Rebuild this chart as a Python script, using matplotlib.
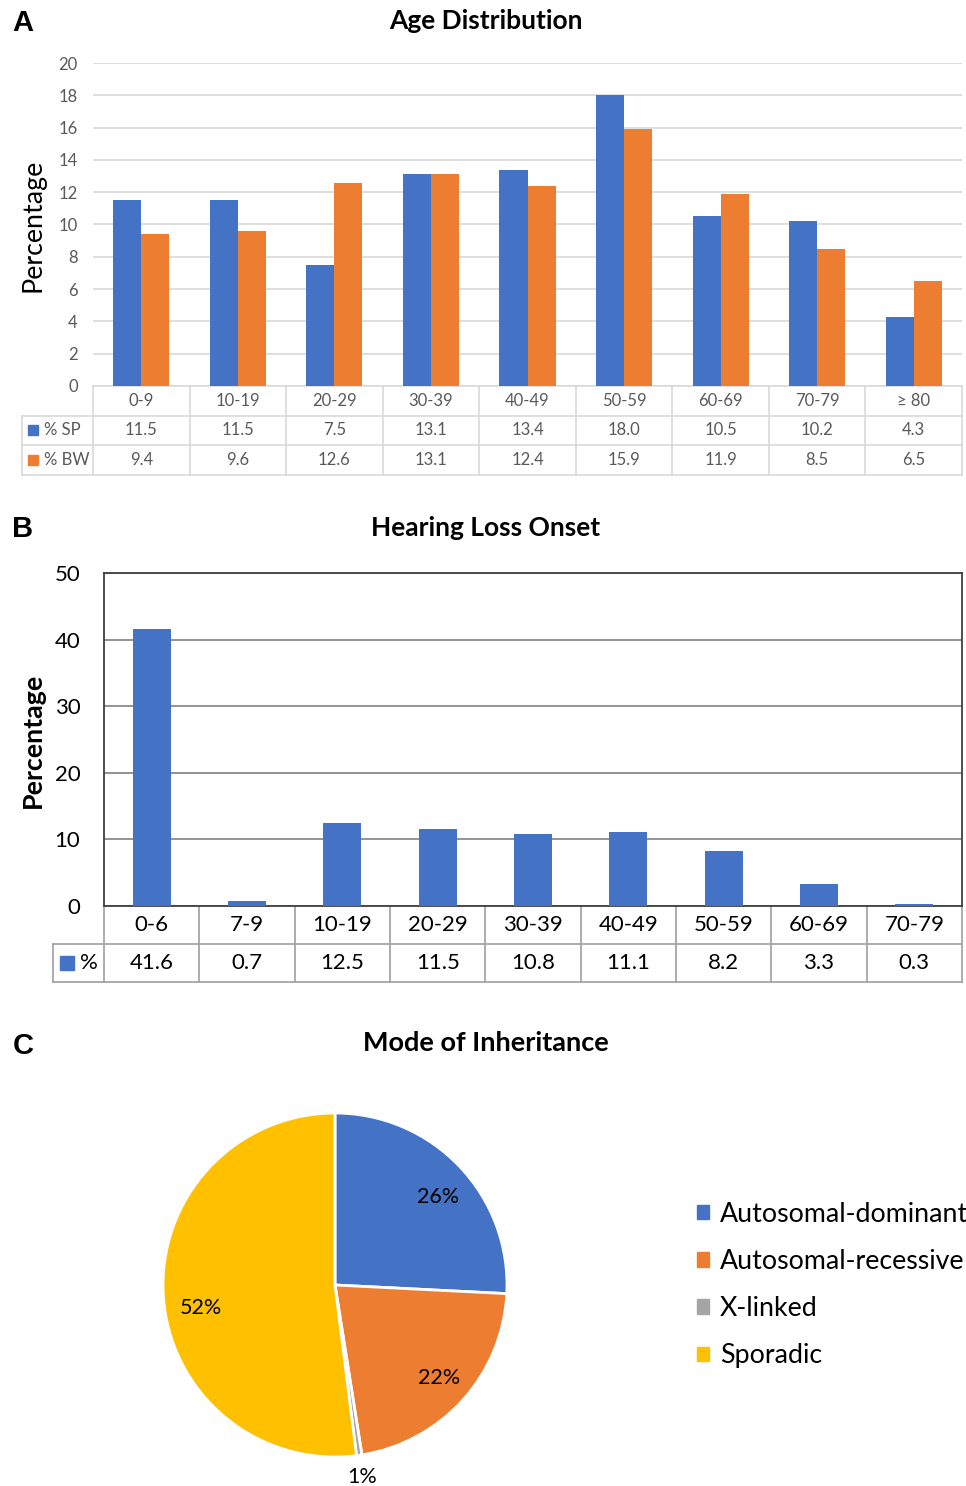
import matplotlib
matplotlib.use("Agg")
import matplotlib.pyplot as plt
import matplotlib.transforms as mtransforms
from matplotlib.patches import Patch
import numpy as np

plt.rcParams["font.family"] = ["Lato", "DejaVu Sans"]

# ---- data ----
age_groups = ["0-9", "10-19", "20-29", "30-39", "40-49", "50-59", "60-69", "70-79", "≥ 80"]
pct_sp = [11.5, 11.5, 7.5, 13.1, 13.4, 18.0, 10.5, 10.2, 4.3]
pct_bw = [9.4, 9.6, 12.6, 13.1, 12.4, 15.9, 11.9, 8.5, 6.5]

onset_groups = ["0-6", "7-9", "10-19", "20-29", "30-39", "40-49", "50-59", "60-69", "70-79"]
onset_pct = [41.6, 0.7, 12.5, 11.5, 10.8, 11.1, 8.2, 3.3, 0.3]

inherit_modes = ["Autosomal-dominant", "Autosomal-recessive", "X-linked", "Sporadic"]
inherit_share = [25.8, 21.7, 0.5, 52.0]
inherit_labels = ["26%", "22%", "1%", "52%"]

BLUE, ORANGE, GRAY, YELLOW = "#4472C4", "#ED7D31", "#A5A5A5", "#FFC000"

W, H = 966, 1486
fig = plt.figure(figsize=(W / 100, H / 100), dpi=100)


def px_axes(x0, y0, x1, y1):
    return fig.add_axes([x0 / W, 1 - y1 / H, (x1 - x0) / W, (y1 - y0) / H])


def fx(px):
    return px / W


def fy(py):
    return 1 - py / H


# ---------------- Panel A ----------------
axA = px_axes(93, 63, 962, 386)
x = np.arange(len(age_groups))
w = 0.29
axA.bar(x - w / 2, pct_sp, w, color=BLUE, zorder=3)
axA.bar(x + w / 2, pct_bw, w, color=ORANGE, zorder=3)
axA.set_xlim(-0.5, len(age_groups) - 0.5)
axA.set_ylim(0, 20)
axA.set_yticks(range(0, 21, 2))
axA.set_xticks([])
axA.yaxis.grid(True, color="#d9d9d9", lw=1.2)
axA.set_axisbelow(True)
for s in axA.spines.values():
    s.set_visible(False)
axA.tick_params(axis="y", length=0, pad=11, labelsize=12, labelcolor="#595959")

trA = mtransforms.blended_transform_factory(axA.transData, axA.transAxes)
hA = 323.0
rowsA = [0, -29.5 / hA, -59 / hA, -89 / hA]
left_A = -0.5 - 71 / 96.56
lc = "#d9d9d9"
axA.plot([-0.5, 8.5], [0, 0], color=lc, lw=1.2, transform=trA, clip_on=False)
for r in rowsA[1:]:
    axA.plot([left_A, 8.5], [r, r], color=lc, lw=1.2, transform=trA, clip_on=False)
for k in range(len(age_groups) + 1):
    axA.plot([k - 0.5, k - 0.5], [0, rowsA[-1]], color=lc, lw=1.2, transform=trA, clip_on=False)
axA.plot([left_A, left_A], [rowsA[1], rowsA[-1]], color=lc, lw=1.2, transform=trA, clip_on=False)
for i in range(len(age_groups)):
    for row, txt in enumerate([age_groups[i], f"{pct_sp[i]:.1f}", f"{pct_bw[i]:.1f}"]):
        yc = (rowsA[row] + rowsA[row + 1]) / 2
        axA.text(i, yc, txt, transform=trA, ha="center", va="center",
                 fontsize=12, color="#595959")
for row, (name, col) in enumerate([("% SP", BLUE), ("% BW", ORANGE)], start=1):
    yc = (rowsA[row] + rowsA[row + 1]) / 2
    axA.plot([-0.5 - 60 / 96.56], [yc], marker="s", ms=6.5, color=col,
             transform=trA, clip_on=False)
    axA.text(-0.5 - 49 / 96.56, yc, name, transform=trA, ha="left", va="center",
             fontsize=12, color="#595959")

fig.text(fx(486), fy(21), "Age Distribution", ha="center", va="center",
         fontsize=19, fontweight="bold")
fig.text(fx(33), fy(225), "Percentage", ha="center", va="center",
         rotation=90, fontsize=19.3)
fig.text(fx(23), fy(23), "A", ha="center", va="center", fontsize=21,
         fontweight="bold", family="Liberation Sans")

# ---------------- Panel B ----------------
axB = px_axes(104, 573, 962, 906)
xb = np.arange(len(onset_groups))
axB.bar(xb, onset_pct, 0.4, color=BLUE, zorder=3)
axB.set_xlim(-0.5, len(onset_groups) - 0.5)
axB.set_ylim(0, 50)
axB.set_yticks(range(0, 51, 10))
axB.set_xticks([])
axB.yaxis.grid(True, color="#808080", lw=1.2)
axB.set_axisbelow(True)
for s in axB.spines.values():
    s.set_color("#404040")
    s.set_linewidth(1.3)
axB.tick_params(axis="y", length=0, pad=17, labelsize=16, labelcolor="black")

trB = mtransforms.blended_transform_factory(axB.transData, axB.transAxes)
hB = 333.0
rowsB = [0, -38 / hB, -76 / hB]
left_B = -0.5 - 51 / 95.33
lb = "#a6a6a6"
for r in rowsB[1:]:
    axB.plot([left_B, 8.5], [r, r], color=lb, lw=1.3, transform=trB, clip_on=False)
for k in range(len(onset_groups) + 1):
    axB.plot([k - 0.5, k - 0.5], [0, rowsB[-1]], color=lb, lw=1.3, transform=trB, clip_on=False)
axB.plot([left_B, left_B], [rowsB[1], rowsB[-1]], color=lb, lw=1.3, transform=trB, clip_on=False)
for i in range(len(onset_groups)):
    for row, txt in enumerate([onset_groups[i], f"{onset_pct[i]:.1f}"]):
        yc = (rowsB[row] + rowsB[row + 1]) / 2
        axB.text(i, yc, txt, transform=trB, ha="center", va="center", fontsize=16)
ycB = (rowsB[1] + rowsB[2]) / 2
axB.plot([-0.5 - 36.5 / 95.33], [ycB], marker="s", ms=9.5, color=BLUE,
         transform=trB, clip_on=False)
axB.text(-0.5 - 24 / 95.33, ycB, "%", transform=trB, ha="left", va="center", fontsize=16)

fig.text(fx(486), fy(528), "Hearing Loss Onset", ha="center", va="center",
         fontsize=19, fontweight="bold")
fig.text(fx(33), fy(740), "Percentage", ha="center", va="center",
         rotation=90, fontsize=19.3, fontweight="bold")
fig.text(fx(23), fy(529), "B", ha="center", va="center", fontsize=21,
         fontweight="bold", family="Liberation Sans")

# ---------------- Panel C ----------------
axC = px_axes(135, 1085, 535, 1485)
lim = 200 / 172
wedges, _ = axC.pie(inherit_share, colors=[BLUE, ORANGE, GRAY, YELLOW],
                    startangle=90, counterclock=False,
                    wedgeprops=dict(edgecolor="white", linewidth=2))
axC.set_xlim(-lim, lim)
axC.set_ylim(-lim, lim)
axC.set_aspect("equal")
# label radius and small angular nudge (deg), Excel best-fit style
label_r = [0.79, 0.81, 1.13, 0.79]
label_nudge = [-3, 0, 0, 6]
for wdg, lab, r, d in zip(wedges, inherit_labels, label_r, label_nudge):
    th = np.deg2rad((wdg.theta1 + wdg.theta2) / 2 + d)
    axC.text(r * np.cos(th), r * np.sin(th), lab, ha="center", va="center", fontsize=15.5)

handles = [Patch(color=c) for c in [BLUE, ORANGE, GRAY, YELLOW]]
fig.legend(handles, inherit_modes, loc="center left",
           bbox_to_anchor=(fx(697), fy(1285)), frameon=False, fontsize=19.3,
           handlelength=0.45, handleheight=0.45, handletextpad=0.4,
           labelspacing=0.83, borderpad=0, borderaxespad=0)

fig.text(fx(486), fy(1043), "Mode of Inheritance", ha="center", va="center",
         fontsize=19.5, fontweight="bold")
fig.text(fx(23), fy(1046), "C", ha="center", va="center", fontsize=21,
         fontweight="bold", family="Liberation Sans")

fig.savefig("out.png", dpi=100)
